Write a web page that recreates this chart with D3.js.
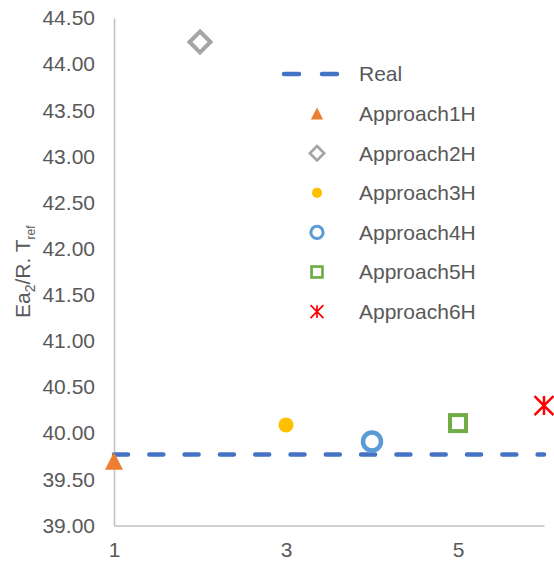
<!DOCTYPE html>
<html><head><meta charset="utf-8">
<script src="https://cdn.jsdelivr.net/npm/d3@7"></script>
<style>
html,body{margin:0;padding:0;background:#fff;}
text{font-family:"Liberation Sans",Arial,sans-serif;fill:#595959;}
</style></head>
<body><svg id="c" width="554" height="565"></svg>
<script>
const approaches = ["Approach1H","Approach2H","Approach3H","Approach4H","Approach5H","Approach6H"];
const xValues = [1,2,3,4,5,6];
const yValues = [39.70,44.24,40.09,39.91,40.11,40.30];
const realX = [1,6];
const realValue = 39.77;
const yTicks = [39.0,39.5,40.0,40.5,41.0,41.5,42.0,42.5,43.0,43.5,44.0,44.5];
const xTicks = [1,3,5];
const colors = ["#ED7D31","#A5A5A5","#FFC000","#5B9BD5","#70AD47","#FF0000"];
const markerKinds = ["triangle","diamond","dot","ring","square","star"];

const svg = d3.select("#c");
const x = d3.scaleLinear().domain([1,6]).range([114,544]);
const y = d3.scaleLinear().domain([39,44.5]).range([525.5,18]);

// axes
const yAxis = svg.append("g").attr("transform","translate(114,0)")
  .call(d3.axisLeft(y).tickValues(yTicks).tickSize(0).tickPadding(19).tickFormat(d3.format(".2f")));
yAxis.select(".domain").attr("stroke","#bfbfbf").attr("stroke-width",1.5);
yAxis.selectAll("text").attr("font-size",21).attr("fill","#595959").attr("font-family","Liberation Sans, Arial, sans-serif");

const xAxis = svg.append("g").attr("transform","translate(0,525.5)")
  .call(d3.axisBottom(x).tickValues(xTicks).tickSize(0).tickPadding(17).tickFormat(d3.format("d")));
xAxis.select(".domain").attr("stroke","#bfbfbf").attr("stroke-width",1.5);
xAxis.selectAll("text").attr("font-size",21).attr("fill","#595959").attr("font-family","Liberation Sans, Arial, sans-serif");

// y title
const t = svg.append("text").attr("transform","translate(30,318) rotate(-90)")
  .attr("text-anchor","start").attr("font-size",21);
t.append("tspan").text("Ea");
t.append("tspan").text("2").attr("font-size",14).attr("baseline-shift","-5");
t.append("tspan").text("/R. T");
t.append("tspan").text("ref").attr("font-size",12).attr("baseline-shift","-5");

// real line
svg.append("path")
  .attr("d", d3.line().x(d=>x(d)).y(()=>y(realValue))(realX))
  .attr("fill","none").attr("stroke","#4472C4").attr("stroke-width",4.5)
  .attr("stroke-linecap","round").attr("stroke-dasharray","14,21.3");

function marker(g, kind, color, s){
  const p = d3.path();
  if(kind==="triangle"){
    const w=9*s,h=8.8*s;
    p.moveTo(0,-h);p.lineTo(w,h);p.lineTo(-w,h);p.closePath();
    g.append("path").attr("d",p.toString()).attr("fill",color);
  } else if(kind==="diamond"){
    const r=10.5*s;
    p.moveTo(0,-r);p.lineTo(r,0);p.lineTo(0,r);p.lineTo(-r,0);p.closePath();
    g.append("path").attr("d",p.toString()).attr("fill","none").attr("stroke",color).attr("stroke-width",4*s);
  } else if(kind==="dot"){
    g.append("circle").attr("r",7.5*s).attr("fill",color);
  } else if(kind==="ring"){
    g.append("circle").attr("r",9*s).attr("fill","none").attr("stroke",color).attr("stroke-width",4.5*s);
  } else if(kind==="square"){
    const r=8*s;
    g.append("rect").attr("x",-r).attr("y",-r).attr("width",2*r).attr("height",2*r)
      .attr("fill","none").attr("stroke",color).attr("stroke-width",4*s);
  } else if(kind==="star"){
    const r=9.5*s;
    p.moveTo(-r,-r);p.lineTo(r,r);p.moveTo(-r,r);p.lineTo(r,-r);p.moveTo(0,-r);p.lineTo(0,r);
    g.append("path").attr("d",p.toString()).attr("fill","none").attr("stroke",color).attr("stroke-width",2.5*s);
  }
}

approaches.forEach((name,i)=>{
  const g = svg.append("g").attr("transform",`translate(${x(xValues[i])},${y(yValues[i])})`);
  marker(g, markerKinds[i], colors[i], 1);
});

// legend
const legY0 = 74, legStep = 39.6;
const leg = svg.append("g");
leg.append("line").attr("x1",284).attr("x2",337).attr("y1",legY0).attr("y2",legY0)
  .attr("stroke","#4472C4").attr("stroke-width",4.5).attr("stroke-linecap","round")
  .attr("stroke-dasharray","15,23");
leg.append("text").attr("x",359).attr("y",legY0).attr("dy","0.35em").attr("font-size",21).text("Real");
approaches.forEach((name,i)=>{
  const yy = legY0 + legStep*(i+1);
  const g = leg.append("g").attr("transform",`translate(317,${yy})`);
  marker(g, markerKinds[i], colors[i], 0.68);
  leg.append("text").attr("x",359).attr("y",yy).attr("dy","0.35em").attr("font-size",21).text(name);
});
</script></body></html>
